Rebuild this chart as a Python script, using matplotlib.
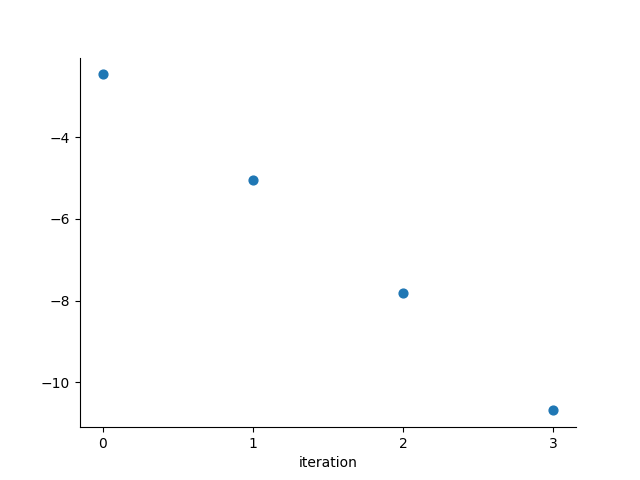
import matplotlib
matplotlib.use('Agg')
import matplotlib.pyplot as plt

iterations = [0, 1, 2, 3]
values = [-2.46, -5.05, -7.82, -10.69]

fig, ax = plt.subplots(figsize=(6.4, 4.8), dpi=100)
ax.scatter(iterations, values, color='tab:blue', s=40)
ax.set_xticks(iterations)
ax.set_xlabel('iteration')
ax.spines['top'].set_visible(False)
ax.spines['right'].set_visible(False)

fig.savefig('out.png', dpi=100)
